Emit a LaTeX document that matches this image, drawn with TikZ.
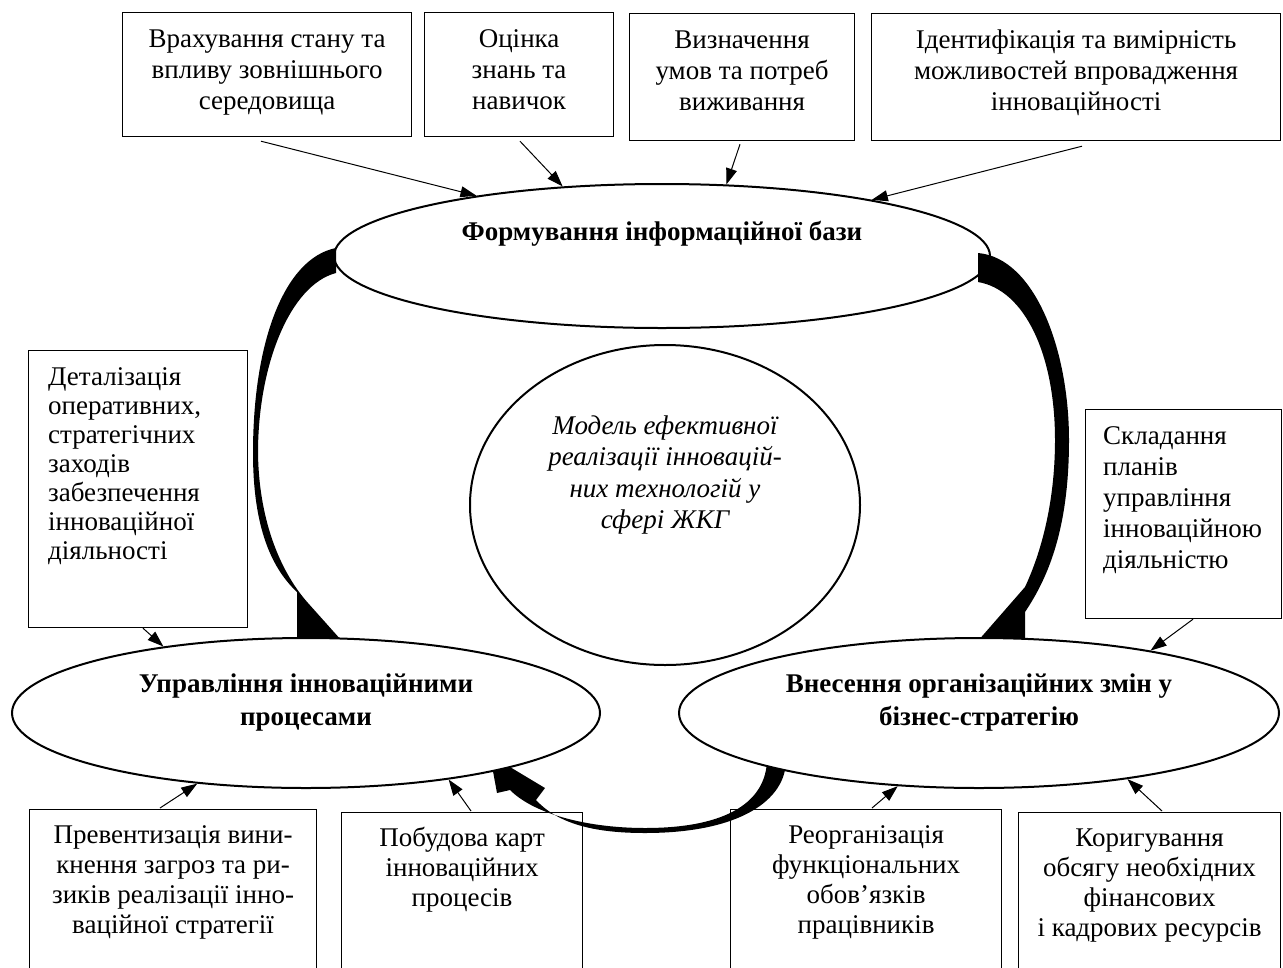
\documentclass[tikz,border=0pt]{standalone}
\usepackage{fontspec}
\setmainfont{Liberation Serif}
\usetikzlibrary{arrows.meta,shapes.geometric,calc}
\newcommand\ctxt[3]{\parbox[t]{#1}{\fontsize{27pt}{#2}\selectfont\centering #3\par}}
\newcommand\ltxt[3]{\parbox[t]{#1}{\fontsize{27pt}{#2}\selectfont\raggedright #3\par}}
\begin{document}
\begin{tikzpicture}[x=1pt,y=-1pt,
  box/.style={draw=black, line width=1.2pt, fill=white, inner sep=0pt, anchor=north west},
  oval/.style={ellipse, draw=black, line width=2pt, fill=white, inner sep=0pt},
  txt/.style={inner sep=0pt, anchor=base},
  ltx/.style={inner sep=0pt, anchor=base west},
  conn/.style={line width=1pt, -{Triangle[length=16pt,width=11pt]}},
  band/.style={fill=black, draw=none}]
\useasboundingbox (0,0) rectangle (1283,967);
\fill[white] (0,0) rectangle (1283,967);

% boxes
\node[box, minimum width=289pt, minimum height=124pt] (b1) at (122,12) {};
\node[box, minimum width=189pt, minimum height=124pt] (b2) at (424,12) {};
\node[box, minimum width=225pt, minimum height=127pt] (b3) at (629,13) {};
\node[box, minimum width=409pt, minimum height=127pt] (b4) at (871,13) {};
\node[box, minimum width=219pt, minimum height=277pt] (lb) at (28,350) {};
\node[box, minimum width=196pt, minimum height=209pt] (rb) at (1085,409) {};
\node[box, minimum width=287pt, minimum height=200pt] (bb1) at (29,809) {};
\node[box, minimum width=241pt, minimum height=200pt] (bb2) at (341,812) {};
\node[box, minimum width=271pt, minimum height=200pt] (bb3) at (730,809) {};
\node[box, minimum width=262pt, minimum height=200pt] (bb4) at (1018,812) {};

% top ellipse
\node[oval, minimum width=656pt, minimum height=144pt] (T) at (662,256) {};

% thick curved arrows
\fill[band] (336,248) .. controls (285,258) and (253,340) .. (253,453)
  .. controls (253,520) and (268,565) .. (297,592)
  -- (297,650) -- (350,650) -- (308,603)
  .. controls (283,575) and (259,525) .. (258,453)
  .. controls (258,365) and (290,285) .. (336,273) -- cycle;
\fill[band] (978,253) .. controls (1035,258) and (1069,350) .. (1069,440)
  .. controls (1069,525) and (1050,575) .. (1025,612)
  -- (1025,650) -- (970,650) -- (1025,587)
  .. controls (1040,555) and (1055,505) .. (1055,440)
  .. controls (1055,355) and (1025,290) .. (978,282) -- cycle;
\fill[band] (786,760) .. controls (786,800) and (740,833) .. (645,833)
  .. controls (600,833) and (560,826) .. (536,800)
  -- (545,788) -- (490,755) -- (497,793) -- (510,790)
  .. controls (535,815) and (590,828) .. (645,828)
  .. controls (730,828) and (766,800) .. (767,760) -- cycle;

% other ellipses
\node[oval, minimum width=588pt, minimum height=150pt] (L) at (306,713) {};
\node[oval, minimum width=600pt, minimum height=150pt] (R) at (979,713) {};
\node[oval, minimum width=390pt, minimum height=320pt] (C) at (665,505) {};

% texts
\node[txt] (b1t) at ([yshift=-35pt]b1.north) {\ctxt{280pt}{31pt}{Врахування стану та\\впливу зовнішнього\\середовища}};
\node[txt] (b2t) at ([yshift=-35pt]b2.north) {\ctxt{180pt}{31pt}{Оцінка\\знань та\\навичок}};
\node[txt] (b3t) at ([yshift=-35pt]b3.north) {\ctxt{215pt}{31pt}{Визначення\\умов та потреб\\виживання}};
\node[txt] (b4t) at ([yshift=-35pt]b4.north) {\ctxt{400pt}{31pt}{Ідентифікація та вимірність\\можливостей впровадження\\інноваційності}};
\node[ltx] (lbt) at ([xshift=20pt,yshift=-35pt]lb.north west) {\ltxt{195pt}{29pt}{Деталізація\\оперативних,\\стратегічних\\заходів\\забезпечення\\інноваційної\\діяльності}};
\node[ltx] (rbt) at ([xshift=18pt,yshift=-35pt]rb.north west) {\ltxt{175pt}{31pt}{Складання\\планів\\управління\\інноваційною\\діяльністю}};
\node[txt] (bb1t) at ([yshift=-34pt]bb1.north) {\ctxt{280pt}{30pt}{Превентизація вини-\\кнення загроз та ри-\\зиків реалізації інно-\\ваційної стратегії}};
\node[txt] (bb2t) at ([yshift=-34pt]bb2.north) {\ctxt{235pt}{30pt}{Побудова карт\\інноваційних\\процесів}};
\node[txt] (bb3t) at ([yshift=-34pt]bb3.north) {\ctxt{265pt}{30pt}{Реорганізація\\функціональних\\обов’язків\\працівників}};
\node[txt] (bb4t) at ([yshift=-34pt]bb4.north) {\ctxt{255pt}{30pt}{Коригування\\обсягу необхідних\\фінансових\\і кадрових ресурсів}};
\node[txt] (Tt) at (662,240) {\ctxt{600pt}{32pt}{\bfseries Формування інформаційної бази}};
\node[txt] (Lt) at (306,692) {\ctxt{560pt}{33pt}{\bfseries Управління інноваційними\\процесами}};
\node[txt] (Rt) at (979,692) {\ctxt{570pt}{33pt}{\bfseries Внесення організаційних змін у\\бізнес-стратегію}};
\node[txt] (Ct) at (665,434) {\ctxt{360pt}{31.5pt}{\itshape Модель ефективної\\реалізації інновацій-\\них технологій у\\сфері ЖКГ}};

% thin connectors
\draw[conn] ([xshift=139pt,yshift=-4pt]b1.south west) -- (T.162);
\draw[conn] ([xshift=96pt,yshift=-4pt]b2.south west) -- (T.145);
\draw[conn] ([xshift=111pt,yshift=-3pt]b3.south west) -- (T.48);
\draw[conn] ([xshift=211pt,yshift=-5pt]b4.south west) -- (T.15);
\draw[conn] ([xshift=115pt]lb.south west) -- (L.155);
\draw[conn] ([xshift=108pt]rb.south west) -- (R.20.5);
\draw[conn] ([xshift=131pt,yshift=1pt]bb1.north west) -- (L.213);
\draw[conn] ([xshift=130pt,yshift=1pt]bb2.north west) -- (L.335);
\draw[conn] ([xshift=142pt,yshift=1pt]bb3.north west) -- (R.222);
\draw[conn] ([xshift=144pt,yshift=1pt]bb4.north west) -- (R.336);
\end{tikzpicture}
\end{document}
